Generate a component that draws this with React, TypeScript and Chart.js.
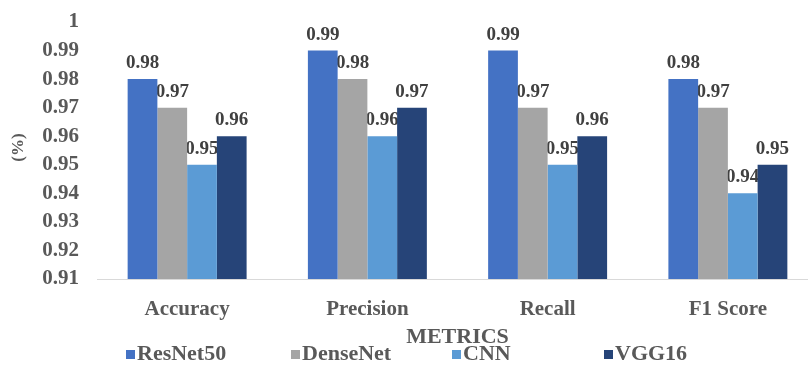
import { useEffect, useRef } from "react";
import { Chart, registerables } from "chart.js";

Chart.register(...registerables);

// Evaluation metrics per model
const metrics = ["Accuracy", "Precision", "Recall", "F1 Score"];
const resnet50 = [0.98, 0.99, 0.99, 0.98];
const densenet = [0.97, 0.98, 0.97, 0.97];
const cnn = [0.95, 0.96, 0.95, 0.94];
const vgg16 = [0.96, 0.97, 0.96, 0.95];
const yTicks = [0.91, 0.92, 0.93, 0.94, 0.95, 0.96, 0.97, 0.98, 0.99, 1];

const modelNames = ["ResNet50", "DenseNet", "CNN", "VGG16"];
const modelValues = [resnet50, densenet, cnn, vgg16];
const modelColors = ["#4472C4", "#A5A5A5", "#5B9BD5", "#264478"];

const FONT = '"Liberation Serif", "Times New Roman", serif';
const TEXT = "#595959";
const LABEL = "#404040";

// Left edges of the legend entries (boxes)
const legendX = [126, 291, 452, 604];

const valueLabels = {
  id: "valueLabels",
  beforeDatasetsDraw(chart: any) {
    const ctx = chart.ctx;
    ctx.save();
    ctx.font = `bold 19px ${FONT}`;
    ctx.fillStyle = LABEL;
    ctx.textAlign = "center";
    ctx.textBaseline = "alphabetic";
    chart.data.datasets.forEach((ds: any, di: number) => {
      const meta = chart.getDatasetMeta(di);
      meta.data.forEach((bar: any, i: number) => {
        ctx.fillText(Number(ds.data[i]).toFixed(2), bar.x, bar.y - 11);
      });
    });
    ctx.restore();
  },
};

const decorations = {
  id: "decorations",
  afterDraw(chart: any) {
    const ctx = chart.ctx;
    const area = chart.chartArea;
    ctx.save();
    ctx.fillStyle = TEXT;

    // x-axis title
    ctx.font = `bold 22px ${FONT}`;
    ctx.textAlign = "center";
    ctx.textBaseline = "middle";
    ctx.fillText("METRICS", (area.left + area.right) / 2, 337);

    // y-axis title
    ctx.save();
    ctx.translate(19, (area.top + area.bottom) / 2 - 3);
    ctx.rotate(-Math.PI / 2);
    ctx.font = `bold 17px ${FONT}`;
    ctx.fillText("(%)", 0, 0);
    ctx.restore();

    // legend
    ctx.font = `bold 22px ${FONT}`;
    ctx.textAlign = "left";
    ctx.textBaseline = "middle";
    modelNames.forEach((name, i) => {
      const x = legendX[i];
      ctx.fillStyle = modelColors[i];
      ctx.fillRect(x, 350, 9, 9);
      ctx.fillStyle = TEXT;
      ctx.fillText(name, x + 11, 354);
    });
    ctx.restore();
  },
};

export default function App() {
  const canvasRef = useRef<HTMLCanvasElement | null>(null);

  useEffect(() => {
    document.body.style.margin = "0";
    const canvas = canvasRef.current;
    if (!canvas) return;
    const chart = new Chart(canvas, {
      type: "bar",
      data: {
        labels: metrics,
        datasets: modelNames.map((name, i) => ({
          label: name,
          data: modelValues[i],
          backgroundColor: modelColors[i],
          borderWidth: 0,
          categoryPercentage: 0.66,
          barPercentage: 1.0,
        })),
      },
      options: {
        responsive: false,
        animation: false,
        devicePixelRatio: 1,
        layout: { padding: { top: 22, right: 4, bottom: 0, left: 0 } },
        plugins: {
          legend: { display: false },
          tooltip: { enabled: false },
        },
        scales: {
          x: {
            grid: { display: false, drawTicks: false },
            border: { display: true, color: "#D9D9D9", width: 1 },
            ticks: {
              font: { family: FONT, size: 21, weight: "bold" },
              color: TEXT,
              padding: 18,
            },
            afterFit(scale: any) {
              scale.height = 86;
              scale.paddingLeft = 0;
              scale.paddingRight = 0;
            },
          },
          y: {
            min: 0.91,
            max: 1,
            grid: { display: false, drawTicks: false },
            border: { display: false },
            ticks: {
              autoSkip: false,
              font: { family: FONT, size: 21, weight: "bold" },
              color: TEXT,
              padding: 18,
              callback: (v: any) => (Number(v) >= 1 ? "1" : Number(v).toFixed(2)),
            },
            afterBuildTicks(scale: any) {
              scale.ticks = yTicks.map((v) => ({ value: v }));
            },
            afterFit(scale: any) {
              scale.width = 97;
              scale.paddingTop = 0;
              scale.paddingBottom = 0;
            },
          },
        },
      },
      plugins: [valueLabels, decorations],
    });
    return () => chart.destroy();
  }, []);

  return (
    <div style={{ width: 808, height: 365, overflow: "hidden", background: "#fff" }}>
      <canvas ref={canvasRef} width={822} height={365} style={{ display: "block" }} />
    </div>
  );
}
